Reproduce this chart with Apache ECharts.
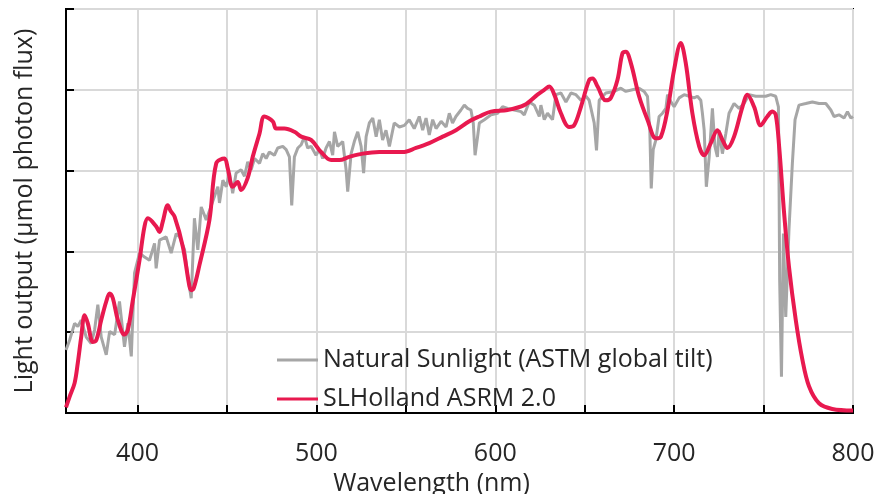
<!DOCTYPE html>
<html>
<head>
<meta charset="utf-8">
<title>Light output spectrum</title>
<script src="https://cdn.jsdelivr.net/npm/echarts@6/dist/echarts.min.js"></script>
<style>
    html, body { margin: 0; padding: 0; background: #fff; }
    #chart { width: 876px; height: 494px; }
</style>
</head>
<body>
<div id="chart"></div>
<script>
// Natural sunlight (ASTM global tilt)
const sunNm = [
    360, 362, 364.8, 366.6, 368.5, 371.3, 374.1, 376, 377.8, 379.7, 382.5, 384.4, 387.2, 389.9, 392.7,
    394.6, 396.5, 398.3, 401.1, 403.9, 406.7, 409.5, 410.4, 412.3, 416, 418.8, 421.6, 423.5, 426.3, 428.1,
    430, 431.8, 433.7, 435.6, 438.4, 443, 444.9, 445.8, 447.7, 449.6, 451.4, 453.2, 455.1, 457.9, 459.8,
    461.6, 463.5, 465.4, 468.2, 470, 471.9, 473.7, 476.5, 478.4, 481.2, 483.1, 484.9, 486.2, 487.7, 489.6,
    491.5, 493.3, 495.1, 497, 499.8, 501.7, 503.5, 505.4, 507.3, 509.1, 510.1, 511.9, 514.7, 516.6, 517.5,
    519.4, 521.2, 523.1, 525, 526.4, 527.8, 529.6, 531.5, 533.4, 535.2, 537, 538.9, 540.8, 543.5, 546.4,
    549.2, 551.9, 554.7, 557.5, 559.4, 561.3, 563.1, 565, 566.9, 569.7, 572.5, 574.3, 576.1, 578, 580.8,
    582.7, 584.5, 586.4, 587.7, 588.7, 590, 591.1, 593.9, 597.6, 601.3, 604.1, 606.9, 610.6, 614.4, 616.2,
    619, 621.8, 624.6, 625.5, 627.4, 629.2, 632, 633.9, 636.7, 639.5, 642.3, 645.1, 647.9, 650.7, 652.5,
    655.3, 656.6, 658.1, 661.8, 666.5, 670.2, 673, 676.7, 680.4, 683.2, 685.1, 686.4, 687.2, 688.3, 689.8,
    691.6, 693.5, 695.4, 696.3, 698.2, 700, 702.8, 705.6, 708.4, 711.2, 713, 714.9, 715.8, 716.8, 718,
    719.6, 721.4, 722.8, 724.2, 725.1, 727, 728.9, 730.7, 733.5, 736.3, 739.1, 741.9, 745.6, 747.5, 751.2,
    754, 756.8, 758.3, 758.7, 759, 760, 761.1, 762.4, 764.2, 766.1, 767.6, 769.8, 773.6, 777.3, 781,
    784.8, 787.6, 789.4, 792.2, 795, 796.9, 798.8, 800
];
const sunFlux = [
    0.78, 0.90, 1.11, 1.07, 1.15, 0.94, 0.86, 1.03, 1.34, 0.94, 0.72, 1.01, 0.97, 1.38, 0.82,
    1.11, 0.70, 1.73, 1.98, 1.93, 1.89, 2.10, 1.79, 2.14, 2.18, 1.98, 2.22, 2.18, 2.02, 1.69,
    1.42, 2.41, 2.02, 2.55, 2.39, 2.68, 2.80, 2.60, 2.88, 2.80, 2.97, 2.72, 2.97, 3.01, 2.93,
    3.11, 3.01, 3.15, 3.09, 3.21, 3.15, 3.23, 3.19, 3.28, 3.30, 3.26, 3.17, 2.57, 3.17, 3.28,
    3.32, 3.42, 3.28, 3.30, 3.19, 3.26, 3.15, 3.28, 3.36, 3.19, 3.48, 3.30, 3.36, 3.01, 2.74,
    3.21, 3.36, 3.48, 3.30, 2.97, 3.42, 3.59, 3.65, 3.42, 3.63, 3.38, 3.50, 3.30, 3.59, 3.54,
    3.56, 3.63, 3.52, 3.67, 3.50, 3.65, 3.44, 3.63, 3.52, 3.61, 3.54, 3.71, 3.59, 3.67, 3.75,
    3.81, 3.77, 3.75, 3.59, 3.19, 3.40, 3.59, 3.63, 3.69, 3.71, 3.79, 3.77, 3.75, 3.73, 3.69,
    3.85, 3.81, 3.67, 3.81, 3.63, 3.71, 3.63, 3.94, 3.96, 3.85, 3.96, 3.94, 3.87, 3.92, 3.87,
    3.59, 3.25, 3.87, 3.96, 3.98, 4.02, 3.98, 4.00, 4.02, 3.98, 3.92, 3.50, 2.78, 3.26, 3.38,
    3.67, 3.71, 3.77, 3.94, 3.85, 3.79, 3.90, 3.94, 3.92, 3.90, 3.92, 3.87, 3.71, 3.50, 2.80,
    3.17, 3.77, 3.30, 3.17, 3.50, 3.21, 3.46, 3.71, 3.83, 3.77, 3.83, 3.94, 3.92, 3.92, 3.92,
    3.94, 3.92, 3.79, 2.68, 1.65, 0.45, 2.22, 1.19, 2.27, 3.09, 3.63, 3.81, 3.83, 3.85, 3.83,
    3.83, 3.75, 3.67, 3.69, 3.65, 3.73, 3.65, 3.67
];

// SLHolland ASRM 2.0 lamp spectrum
const lampNm = [
    360, 362, 364.8, 366.6, 368.5, 370.4, 372.2, 375, 376.9, 379.7, 382.5, 384.4, 386.2, 389, 392.7,
    394.6, 397.4, 401.1, 403.9, 405.8, 410.4, 412.3, 414, 416.9, 418.5, 420.7, 425.3, 429.1, 430.2, 431.5,
    434.6, 440.2, 444, 448.6, 450.4, 453.2, 456, 457.9, 461.6, 464.4, 468.2, 470.9, 475.6, 477.5, 482.1,
    487.7, 491.5, 497, 502.6, 508.2, 512.8, 518.4, 525.9, 535.2, 548.2, 555.7, 563.1, 570.6, 578, 585.5,
    591.1, 597.6, 606.9, 616.2, 623.6, 627.4, 630.2, 633, 636.7, 641.3, 644.1, 647.9, 652.5, 654.4, 657.2,
    661.8, 664.6, 668.3, 671.1, 673, 675.8, 680.4, 685.1, 689.8, 692.6, 696.3, 700, 703.7, 706.5, 710.2,
    714, 716.8, 720.5, 724.2, 727, 729.8, 733.5, 738.2, 741, 744.7, 748.4, 752.1, 754.9, 756.8, 758.7,
    761.5, 764.2, 768, 771.7, 775.4, 781, 788.4, 800
];
const lampFlux = [
    0.07, 0.20, 0.37, 0.62, 0.94, 1.21, 1.11, 0.88, 0.90, 1.15, 1.38, 1.48, 1.42, 1.15, 0.97,
    1.03, 1.40, 1.89, 2.31, 2.41, 2.31, 2.24, 2.36, 2.57, 2.50, 2.43, 2.06, 1.56, 1.52, 1.55,
    1.83, 2.39, 3.09, 3.15, 3.03, 2.80, 2.86, 2.76, 2.91, 3.17, 3.46, 3.67, 3.61, 3.52, 3.52,
    3.48, 3.42, 3.38, 3.23, 3.13, 3.13, 3.17, 3.21, 3.23, 3.23, 3.28, 3.34, 3.42, 3.50, 3.61,
    3.67, 3.73, 3.75, 3.81, 3.94, 4.00, 4.04, 3.94, 3.71, 3.54, 3.56, 3.79, 4.12, 4.14, 4.04,
    3.87, 3.90, 4.12, 4.45, 4.47, 4.33, 3.92, 3.63, 3.40, 3.42, 3.75, 4.25, 4.58, 4.33, 3.71,
    3.30, 3.19, 3.34, 3.50, 3.38, 3.28, 3.42, 3.79, 3.94, 3.79, 3.56, 3.67, 3.73, 3.69, 3.30,
    2.47, 1.81, 1.15, 0.66, 0.33, 0.12, 0.05, 0.03
];

const xTicks = [400, 500, 600, 700, 800];
const seriesNames = ['Natural Sunlight (ASTM global tilt)', 'SLHolland ASRM 2.0'];

const textColor = '#262626';
const fontFamily = '"Open Sans", sans-serif';

function pairs(xs, ys) {
    return xs.map((x, i) => [x, ys[i]]);
}

const chart = echarts.init(document.getElementById('chart'));

chart.setOption({
    backgroundColor: '#fff',
    animation: false,
    grid: {
        left: 66, right: 23, top: 9, bottom: 81,
        outerBoundsMode: 'none',
        containLabel: false,
        show: true,
        borderColor: '#000',
        borderWidth: 2
    },
    legend: {
        orient: 'vertical',
        left: 272,
        top: 341,
        icon: 'rect',
        itemWidth: 41,
        itemHeight: 3,
        itemGap: 11,
        textStyle: { fontFamily: fontFamily, fontSize: 25, color: textColor, lineHeight: 28 },
        data: seriesNames
    },
    xAxis: {
        type: 'value',
        min: 360,
        max: 800,
        minInterval: 50,
        maxInterval: 50,
        name: 'Wavelength (nm)',
        nameLocation: 'middle',
        nameGap: 56,
        nameTextStyle: { fontFamily: fontFamily, fontSize: 25, color: textColor, padding: [0, 56, 0, 0] },
        axisLine: { lineStyle: { color: '#000', width: 2 } },
        axisTick: { inside: true, length: 8, lineStyle: { color: '#000', width: 2 } },
        axisLabel: {
            margin: 28,
            fontFamily: fontFamily, fontSize: 25, color: textColor,
            formatter: v => xTicks.includes(v) ? String(v) : ''
        },
        splitLine: { show: true, lineStyle: { color: '#d9d9d9', width: 2 } }
    },
    yAxis: {
        type: 'value',
        min: 0,
        max: 5,
        interval: 1,
        name: 'Light output (µmol photon flux)',
        nameLocation: 'middle',
        nameGap: 29,
        nameTextStyle: { fontFamily: fontFamily, fontSize: 25, color: textColor },
        axisLine: { show: true, lineStyle: { color: '#000', width: 2 } },
        axisTick: { show: true, inside: true, length: 8, lineStyle: { color: '#000', width: 2 } },
        axisLabel: { show: false },
        splitLine: { show: true, lineStyle: { color: '#d9d9d9', width: 2 } }
    },
    series: [
        {
            name: seriesNames[0],
            type: 'line',
            data: pairs(sunNm, sunFlux),
            symbol: 'none',
            lineStyle: { color: '#a6a6a6', width: 3 },
            itemStyle: { color: '#a6a6a6' },
            z: 2
        },
        {
            name: seriesNames[1],
            type: 'line',
            data: pairs(lampNm, lampFlux),
            smooth: 0.35,
            symbol: 'none',
            lineStyle: { color: '#e8194f', width: 4 },
            itemStyle: { color: '#e8194f' },
            z: 3
        }
    ]
});
</script>
</body>
</html>
